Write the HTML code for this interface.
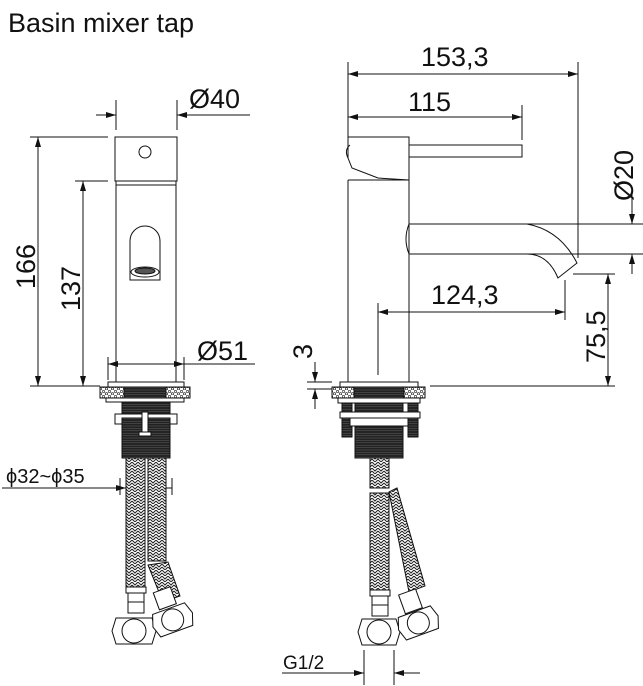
<!DOCTYPE html>
<html><head><meta charset="utf-8"><style>
html,body{margin:0;padding:0;background:#fff;}
svg{display:block;}
text{font-family:"Liberation Sans",sans-serif;fill:#111;}
</style></head><body>
<svg width="643" height="686" viewBox="0 0 643 686" xmlns="http://www.w3.org/2000/svg">
<defs>
<pattern id="braid" width="6" height="6" patternUnits="userSpaceOnUse">
<rect width="6" height="6" fill="#fff"/>
<path d="M0 0 L3 3 L6 0 M0 3 L3 6 L6 3" stroke="#222" stroke-width="1" fill="none"/>
</pattern>
<pattern id="thread" width="4" height="2.4" patternUnits="userSpaceOnUse">
<rect width="4" height="2.4" fill="#222"/>
<line x1="0" y1="1.2" x2="4" y2="1.2" stroke="#666" stroke-width="0.5"/>
</pattern>
<pattern id="gran" width="6" height="5" patternUnits="userSpaceOnUse">
<rect width="6" height="5" fill="#fff"/>
<circle cx="1.5" cy="1.5" r="1.2" fill="none" stroke="#333" stroke-width="0.7"/>
<circle cx="4.5" cy="3.8" r="1.2" fill="none" stroke="#333" stroke-width="0.7"/>
</pattern>
<marker id="a" viewBox="0 0 10 6" refX="10" refY="3" markerWidth="10" markerHeight="6" orient="auto-start-reverse" markerUnits="userSpaceOnUse">
<path d="M0 0 L10 3 L0 6 z" fill="#111"/>
</marker>
</defs>
<text x="8" y="32" font-size="27">Basin mixer tap</text>

<g stroke="#111" stroke-width="1" fill="none">
<rect x="115" y="137" width="62" height="44" fill="#fff"/>
<rect x="116" y="181" width="60" height="4"/>
<line x1="116" y1="185" x2="116" y2="385"/>
<line x1="176" y1="185" x2="176" y2="385"/>
<circle cx="145" cy="152" r="6"/>
<path d="M130 280 L130 241 A15 15 0 0 1 160 241 L160 280 Z"/>
<ellipse cx="145" cy="272" rx="14" ry="5"/>
<ellipse cx="145" cy="271" rx="10" ry="3" fill="#555"/>

<line x1="30" y1="137" x2="108" y2="137"/>
<line x1="75" y1="181" x2="108" y2="181"/>
<line x1="30" y1="386" x2="100" y2="386"/>
<line x1="38" y1="137" x2="38" y2="386" marker-start="url(#a)" marker-end="url(#a)"/>
<line x1="83" y1="181" x2="83" y2="386" marker-start="url(#a)" marker-end="url(#a)"/>
<line x1="116" y1="100" x2="116" y2="130"/>
<line x1="177" y1="100" x2="177" y2="130"/>
<line x1="96" y1="115" x2="116" y2="115" marker-end="url(#a)"/>
<line x1="196" y1="115" x2="177" y2="115" marker-end="url(#a)"/>
<line x1="177" y1="115" x2="250" y2="115"/>
<line x1="108" y1="357" x2="108" y2="380"/>
<line x1="184" y1="357" x2="184" y2="380"/>
<line x1="108" y1="364" x2="184" y2="364" marker-start="url(#a)" marker-end="url(#a)"/>
<line x1="184" y1="364" x2="255" y2="364"/>

<rect x="108" y="382" width="76" height="5" fill="#fff"/>
<rect x="100" y="387" width="90" height="11" fill="url(#thread)"/>
<rect x="100" y="387" width="24" height="11" fill="url(#gran)"/>
<rect x="166" y="387" width="24" height="11" fill="url(#gran)"/>
<rect x="106" y="398" width="78" height="4" fill="#fff"/>
<rect x="122" y="402" width="48" height="12" fill="url(#thread)"/>
<rect x="115" y="414" width="62" height="10" fill="#fff"/>
<rect x="122" y="418" width="48" height="40" fill="url(#thread)"/>
<rect x="142" y="412" width="6" height="22" fill="#fff"/>
<rect x="139" y="432" width="12" height="4" fill="#fff"/>
<rect x="126" y="458" width="19" height="130" fill="url(#braid)"/>
<rect x="148" y="458" width="18" height="103" fill="url(#braid)"/>
<path d="M148 565 L168 562 L180 596 L163 602 Z" fill="url(#braid)"/>
<rect x="126" y="587" width="20" height="6" fill="#fff"/>
<rect x="128" y="593" width="16" height="20" fill="#fff"/>
<line x1="128" y1="602" x2="144" y2="602"/>
<path d="M116 618 L152 618 L156 631 L152 644 L116 644 L112 631 Z" fill="#fff"/>
<circle cx="134" cy="631" r="12"/>
<g transform="rotate(-20 172 618)">
<rect x="163" y="588" width="18" height="18" fill="#fff"/>
<path d="M155 608 L189 608 L193 620 L189 632 L155 632 L151 620 Z" fill="#fff"/>
<circle cx="172" cy="620" r="11"/>
</g>
<line x1="120" y1="478" x2="120" y2="495"/>
<line x1="172" y1="478" x2="172" y2="495"/>
<line x1="2" y1="488" x2="126" y2="488" marker-end="url(#a)"/>
<line x1="166" y1="488" x2="172" y2="488"/>

<line x1="348" y1="180" x2="348" y2="385"/>
<line x1="409" y1="180" x2="409" y2="385"/>
<path d="M348 137 L409 137 L409 180 L378 178 L352 168 L348 158 Z" fill="#fff"/>
<line x1="348" y1="180" x2="409" y2="180"/>
<path d="M348 158 Q344 150 350 145"/>
<rect x="409" y="145" width="113" height="12" fill="#fff"/>
<path d="M409 224 L527 224 Q560 230 577 263 L558 278 Q548 254 527 254 L409 254"/>
<path d="M409 224 Q403 239 409 254"/>
<line x1="348" y1="62" x2="348" y2="137"/>
<line x1="578" y1="62" x2="578" y2="258"/>
<line x1="348" y1="74" x2="578" y2="74" marker-start="url(#a)" marker-end="url(#a)"/>
<line x1="522" y1="105" x2="522" y2="140"/>
<line x1="348" y1="117" x2="522" y2="117" marker-start="url(#a)" marker-end="url(#a)"/>
<line x1="527" y1="224" x2="643" y2="224"/>
<line x1="527" y1="254" x2="643" y2="254"/>
<line x1="632" y1="195" x2="632" y2="224" marker-end="url(#a)"/>
<line x1="632" y1="274" x2="632" y2="254" marker-end="url(#a)"/>
<line x1="378" y1="303" x2="378" y2="375"/>
<line x1="565" y1="280" x2="565" y2="320"/>
<line x1="378" y1="312" x2="565" y2="312" marker-start="url(#a)" marker-end="url(#a)"/>
<line x1="573" y1="274" x2="615" y2="274"/>
<line x1="430" y1="386" x2="615" y2="386"/>
<line x1="608" y1="274" x2="608" y2="386" marker-start="url(#a)" marker-end="url(#a)"/>
<line x1="307" y1="382" x2="332" y2="382"/>
<line x1="307" y1="389" x2="332" y2="389"/>
<line x1="315" y1="362" x2="315" y2="382" marker-end="url(#a)"/>
<line x1="315" y1="409" x2="315" y2="389" marker-end="url(#a)"/>

<rect x="340" y="382" width="78" height="5" fill="#fff"/>
<rect x="332" y="387" width="93" height="11" fill="url(#thread)"/>
<rect x="332" y="387" width="22" height="11" fill="url(#gran)"/>
<rect x="404" y="387" width="21" height="11" fill="url(#gran)"/>
<rect x="338" y="398" width="82" height="5" fill="#fff"/>
<rect x="355" y="403" width="48" height="12" fill="url(#thread)"/>
<rect x="342" y="403" width="10" height="34" fill="url(#thread)"/>
<rect x="408" y="403" width="10" height="34" fill="url(#thread)"/>
<rect x="340" y="412" width="80" height="6" fill="#fff"/>
<rect x="350" y="418" width="58" height="8" fill="#fff"/>
<rect x="355" y="426" width="48" height="32" fill="url(#thread)"/>
<rect x="370" y="458" width="19" height="30" fill="url(#braid)"/>
<rect x="370" y="493" width="19" height="97" fill="url(#braid)"/>
<path d="M389 492 L397 488 L425 586 L409 592 Z" fill="url(#braid)"/>
<rect x="370" y="590" width="20" height="6" fill="#fff"/>
<rect x="372" y="596" width="16" height="20" fill="#fff"/>
<line x1="372" y1="605" x2="388" y2="605"/>
<path d="M362 619 L396 619 L400 632 L396 645 L362 645 L358 632 Z" fill="#fff"/>
<circle cx="379" cy="632" r="12"/>
<g transform="rotate(-20 418 622)">
<rect x="409" y="590" width="18" height="20" fill="#fff"/>
<path d="M401 611 L435 611 L439 623 L435 635 L401 635 L397 623 Z" fill="#fff"/>
<circle cx="418" cy="623" r="11"/>
</g>
<line x1="364" y1="650" x2="364" y2="685"/>
<line x1="394" y1="650" x2="394" y2="685"/>
<line x1="282" y1="673" x2="364" y2="673" marker-end="url(#a)"/>
<line x1="420" y1="673" x2="394" y2="673" marker-end="url(#a)"/>
</g>

<g font-size="27">
<text x="189" y="108">Ø40</text>
<text x="197" y="360">Ø51</text>
<text x="421" y="66">153,3</text>
<text x="408" y="111">115</text>
<text x="431" y="304">124,3</text>
<text transform="translate(35,289) rotate(-90)">166</text>
<text transform="translate(80,311) rotate(-90)">137</text>
<text transform="translate(633,201) rotate(-90)">Ø20</text>
<text transform="translate(605,363) rotate(-90)">75,5</text>
<text transform="translate(312,359) rotate(-90)">3</text>
</g>
<text x="6" y="483" font-size="20">ϕ32~ϕ35</text>
<text x="283" y="669" font-size="19" font-family="Liberation Mono">G1/2</text>
</svg>
</body></html>
